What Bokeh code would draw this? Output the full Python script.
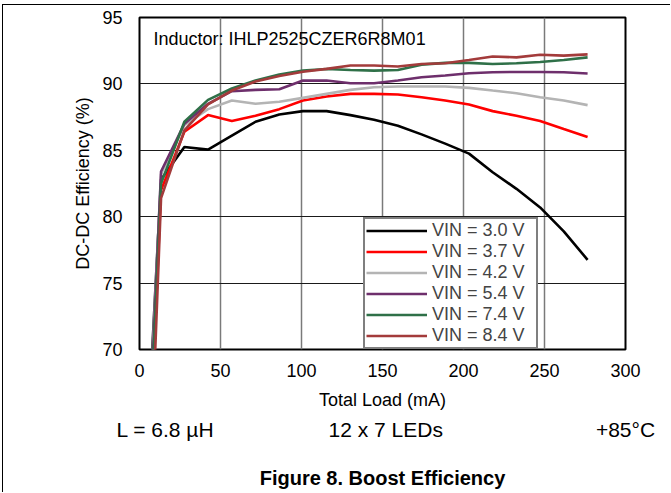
from bokeh.plotting import figure
from bokeh.models import (Label, Legend, LegendItem, FixedTicker, Range1d,
                          LinearAxis)
from bokeh.embed import file_html
from bokeh.resources import INLINE

# ---- data ----
load_ma = [6.6, 13.3, 27.7, 42.3, 57.0, 71.6, 86.3, 100.9, 115.5, 130.2,
           144.8, 159.5, 174.1, 188.7, 203.4, 218.0, 232.7, 247.3, 261.9, 276.6]
eff_vin_3v0 = [67, 82.8, 85.25, 85.05, 86.1, 87.15, 87.7, 87.95, 87.95, 87.65,
               87.3, 86.85, 86.2, 85.5, 84.75, 83.35, 82.1, 80.7, 78.9, 76.75]
eff_vin_3v7 = [63, 82.0, 86.4, 87.65, 87.2, 87.6, 88.1, 88.75, 89.05, 89.25,
               89.25, 89.2, 89.0, 88.75, 88.45, 87.95, 87.6, 87.2, 86.6, 86.0]
eff_vin_4v2 = [66, 83.2, 86.9, 88.1, 88.75, 88.5, 88.65, 88.95, 89.25, 89.55,
               89.75, 89.8, 89.8, 89.8, 89.7, 89.5, 89.3, 89.0, 88.75, 88.4]
eff_vin_5v4 = [65, 83.4, 87.0, 88.5, 89.45, 89.55, 89.6, 90.25, 90.25, 90.05,
               90.05, 90.25, 90.5, 90.63, 90.8, 90.88, 90.9, 90.9, 90.88, 90.78]
eff_vin_7v4 = [64, 82.5, 87.15, 88.8, 89.65, 90.25, 90.7, 91.0, 91.12, 91.05,
               91.0, 91.05, 91.45, 91.58, 91.58, 91.5, 91.55, 91.65, 91.8, 92.0]
eff_vin_8v4 = [60, 81.4, 86.5, 88.45, 89.5, 90.18, 90.6, 90.92, 91.13, 91.39,
               91.39, 91.31, 91.5, 91.56, 91.8, 92.06, 92.0, 92.2, 92.13, 92.22]

series_labels = ["VIN = 3.0 V", "VIN = 3.7 V", "VIN = 4.2 V",
                 "VIN = 5.4 V", "VIN = 7.4 V", "VIN = 8.4 V"]
series_values = [eff_vin_3v0, eff_vin_3v7, eff_vin_4v2,
                 eff_vin_5v4, eff_vin_7v4, eff_vin_8v4]
series_colors = ["#000000", "#ff0000", "#b4b4b4", "#6e2f6c", "#2f7048", "#a33b3b"]

x_ticks = [0, 50, 100, 150, 200, 250, 300]
y_ticks = [70, 75, 80, 85, 90, 95]

condition_texts = ["L = 6.8 µH", "12 x 7 LEDs", "+85°C"]
inductor_text = "Inductor: IHLP2525CZER6R8M01"
caption_text = "Figure 8. Boost Efficiency"

FONT = "Liberation Sans"

p = figure(width=668, height=488, output_backend="svg", toolbar_location=None,
           x_range=Range1d(0, 300), y_range=Range1d(70, 95),
           min_border_left=136, min_border_right=46, min_border_top=12,
           min_border_bottom=144)
p.styles = {"margin-top": "4px", "margin-left": "2px",
            "border-top": "1px solid black", "border-left": "1px solid black"}
p.outline_line_color = "black"
p.outline_line_width = 2
p.background_fill_color = "white"
p.border_fill_color = "white"

p.xaxis.ticker = FixedTicker(ticks=x_ticks)
p.yaxis.ticker = FixedTicker(ticks=y_ticks)

def style_axis(ax, size="18px", style="normal"):
    ax.axis_line_color = None
    ax.major_tick_line_color = None
    ax.minor_tick_line_color = None
    ax.major_tick_out = 0
    ax.major_tick_in = 0
    ax.minor_tick_out = 0
    ax.minor_tick_in = 0
    ax.major_label_text_font = FONT
    ax.major_label_text_font_size = size
    ax.major_label_text_font_style = style
    ax.major_label_text_color = "black"
    ax.axis_label_text_font = FONT
    ax.axis_label_text_font_size = "18px"
    ax.axis_label_text_font_style = "normal"
    ax.axis_label_text_color = "black"

style_axis(p.xaxis[0])
style_axis(p.yaxis[0])
p.xaxis.axis_label = "Total Load (mA)"
p.yaxis.axis_label = "DC-DC Efficiency (%)"
p.xaxis.major_label_standoff = 14
p.yaxis.major_label_standoff = 17
p.xaxis.axis_label_standoff = 10
p.yaxis.axis_label_standoff = 6

p.xgrid.grid_line_color = "#7a7a7a"
p.xgrid.grid_line_width = 1.5
p.ygrid.grid_line_color = "#1a1a1a"
p.ygrid.grid_line_width = 1.2

items = []
for lab, vals, col in zip(series_labels, series_values, series_colors):
    r = p.line(load_ma, vals, line_color=col, line_width=2.6)
    items.append(LegendItem(label=lab, renderers=[r]))

legend = Legend(items=items, location=(224, 0), margin=0, padding=1, spacing=-1,
                label_text_font=FONT, label_text_font_size="18px",
                label_height=19, label_width=103, glyph_height=19, glyph_width=61,
                label_standoff=5,
                border_line_color="black", border_line_width=2,
                background_fill_color="white", background_fill_alpha=1.0)
p.add_layout(legend, "center")

p.add_layout(Label(text=inductor_text, x=14, y=311, x_units="screen", y_units="screen",
                   text_font=FONT, text_font_size="18px", text_align="left",
                   text_baseline="middle", text_color="black"))

# conditions row under the axis title
cond_pos = [16, 152, 300]
cond_axis = LinearAxis(ticker=FixedTicker(ticks=cond_pos),
                       major_label_overrides={k: t for k, t in zip(cond_pos, condition_texts)})
style_axis(cond_axis, size="21px")
cond_axis.major_label_standoff = 5
cond_axis.axis_label_standoff = 0
p.add_layout(cond_axis, "below")

# figure caption, centred under the frame
cap_pos = [150]
cap_axis = LinearAxis(ticker=FixedTicker(ticks=cap_pos),
                      major_label_overrides={cap_pos[0]: caption_text})
style_axis(cap_axis, size="20px", style="bold")
cap_axis.major_label_standoff = 23
cap_axis.axis_label_standoff = 0
p.add_layout(cap_axis, "below")

open("out.html", "w").write(file_html(p, INLINE))
